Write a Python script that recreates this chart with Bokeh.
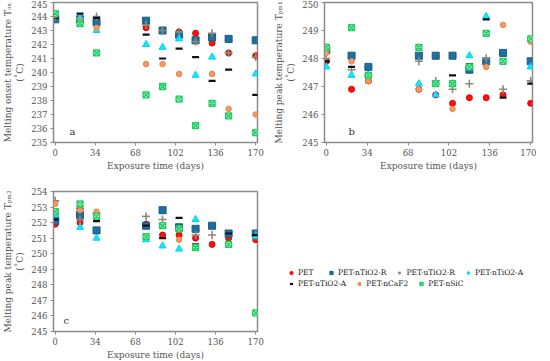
import numpy as np
from bokeh.plotting import figure
from bokeh.models import Label, Legend, LegendItem, FixedTicker, Range1d, ColumnDataSource
from bokeh.layouts import row, column
from bokeh.embed import file_html
from bokeh.resources import INLINE

nan = np.nan
days = [0, 21, 35, 77, 91, 105, 119, 133, 147, 170]
series_names = ["PET", "PET-nTiO2-R", "PET-uTiO2-R", "PET-nTiO2-A", "PET-uTiO2-A", "PET-nCaF2", "PET-nSiC"]

# Panel a: melting onset temperature
ton_PET     = [243.9, 243.7, 243.8, 243.2, 243.0, 242.9, 242.8, 242.1, 241.4, 241.2]
ton_nTiO2_R = [243.8, 243.8, 243.6, 243.7, 243.0, 242.7, 242.3, 242.5, 242.4, 242.3]
ton_uTiO2_R = [244.0, 243.9, 244.0, 243.4, 243.0, 242.9, 242.2, 242.8, 241.4, 241.1]
ton_nTiO2_A = [244.0, 243.9, 243.0, 242.0, 241.8, 242.4, 239.8, 241.1, nan, 239.9]
ton_uTiO2_A = [243.9, 244.2, 243.9, 242.7, 241.0, 241.7, 241.1, 239.4, 240.2, 238.4]
ton_nCaF2   = [244.1, 243.7, 243.2, 240.6, 240.6, 239.9, nan, 239.9, 237.4, 237.0]
ton_nSiC    = [244.2, 243.5, 241.4, 238.4, 239.0, 238.1, 236.2, 237.8, 236.9, 235.7]

# Panel b: melting peak temperature Tpm1
tp1_PET     = [247.9, 246.9, 247.2, 246.9, 246.7, 246.4, 246.6, 246.6, 246.7, 246.4]
tp1_nTiO2_R = [248.3, 248.1, 247.7, 248.1, 248.1, 248.1, 247.6, 247.9, 248.2, 247.9]
tp1_uTiO2_R = [248.0, 247.6, 247.4, 247.9, 247.2, 246.9, 247.1, 248.0, 246.9, 247.2]
tp1_nTiO2_A = [247.7, 247.4, 247.4, 247.1, 246.7, 247.1, 248.1, 249.5, nan, 247.7]
tp1_uTiO2_A = [247.9, 247.7, 247.4, nan, 247.1, 247.4, 247.8, 249.4, 246.6, 247.1]
tp1_nCaF2   = [248.2, 247.9, 247.2, 246.9, 247.1, 246.2, nan, 247.7, 249.2, 248.6]
tp1_nSiC    = [248.4, 249.1, 247.4, 248.4, 247.1, 247.1, 247.7, 248.9, 247.9, 248.7]

# Panel c: melting peak temperature Tpm2
tp2_PET     = [251.9, 252.0, nan, 251.9, 251.2, 251.2, 251.0, 250.6, 251.0, 250.9]
tp2_nTiO2_R = [252.1, 252.5, 251.5, 251.8, 252.8, 251.7, 251.6, 251.8, 251.3, 251.3]
tp2_uTiO2_R = [253.4, 252.2, 252.6, 252.4, 252.2, 251.6, 251.2, 251.2, nan, 251.2]
tp2_nTiO2_A = [252.5, 251.7, 251.0, 250.9, 250.5, 250.3, 252.2, nan, nan, 251.1]
tp2_uTiO2_A = [252.2, 252.9, 252.1, 251.8, 251.0, 252.3, 250.6, nan, 251.3, 251.2]
tp2_nCaF2   = [253.2, 252.8, 252.7, nan, nan, 250.9, nan, nan, nan, nan]
tp2_nSiC    = [252.7, 253.2, 252.4, 251.1, 251.8, 251.6, 250.4, nan, 250.6, 246.2]

x_ticks = [0, 34, 68, 102, 136, 170]

styles = [
    dict(marker="circle", size=6, fill_color="#ff1010", line_color="#e00000"),
    dict(marker="square", size=7, fill_color="#1f6f9f", line_color="#185a82"),
    dict(marker="cross", size=8, fill_color=None, line_color="#8a8a78", line_width=1.6),
    dict(marker="triangle", size=7, fill_color="#10e8ff", line_color="#00d0f0"),
    dict(marker="dash", size=7, fill_color=None, line_color="#111111", line_width=2.2),
    dict(marker="circle", size=5.5, fill_color="#f29a62", line_color="#e8844a"),
    dict(marker="square_x", size=6, fill_color="#a8f4bd", line_color="#22cc66", line_width=1.3),
]

FONT = "DejaVu Serif"

def make_panel(fw, fh, ylo, yhi, ylabel, letter, lx, ly, data, mb_left, mb_right, mb_top, mb_bottom):
    p = figure(frame_width=fw, frame_height=fh, output_backend="svg", toolbar_location=None,
               x_range=Range1d(-1.5, 171.5), y_range=Range1d(ylo, yhi),
               min_border_left=mb_left, min_border_right=mb_right, min_border_top=mb_top,
               min_border_bottom=mb_bottom)
    for vals, st in zip(data, styles):
        src = ColumnDataSource(dict(x=days, y=vals))
        p.scatter("x", "y", source=src, **st)
    p.xgrid.visible = False
    p.ygrid.visible = False
    p.xaxis.ticker = FixedTicker(ticks=x_ticks)
    p.yaxis.ticker = FixedTicker(ticks=list(range(int(ylo), int(yhi) + 1)))
    p.xaxis.axis_label = "Exposure time (days)"
    p.yaxis.axis_label = ylabel
    for ax in (p.xaxis[0], p.yaxis[0]):
        ax.axis_label_text_font = FONT
        ax.axis_label_text_font_style = "normal"
        ax.axis_label_text_font_size = "9px"
        ax.axis_label_text_color = "#555555"
        ax.major_label_text_font = FONT
        ax.major_label_text_font_size = "8.5px"
        ax.major_label_text_color = "#555555"
        ax.axis_line_color = "#8c8c8c"
        ax.major_tick_line_color = "#8c8c8c"
        ax.minor_tick_line_color = None
        ax.major_tick_out = 3
        ax.major_tick_in = 0
    p.xaxis.axis_label_standoff = 2
    p.yaxis.axis_label_standoff = 3
    p.xaxis.major_label_standoff = 3
    p.yaxis.major_label_standoff = 3
    p.outline_line_color = "#8c8c8c"
    p.outline_line_width = 1.5
    p.add_layout(Label(x=lx, y=ly, x_units="screen", y_units="screen", text=letter,
                       text_font=FONT, text_font_size="10px", text_color="#333333"))
    return p

pa = make_panel(204, 140, 235, 245, "Melting onset temperature T\u2092\u2099\n(\u02daC)", "a", 16, 6,
                [ton_PET, ton_nTiO2_R, ton_uTiO2_R, ton_nTiO2_A, ton_uTiO2_A, ton_nCaF2, ton_nSiC],
                38, 8, 2, 30)
pb = make_panel(208, 140, 245, 250, "Melting peak temperature T\u209a\u2098\u2081\n(\u02daC)", "b", 24, 6,
                [tp1_PET, tp1_nTiO2_R, tp1_uTiO2_R, tp1_nTiO2_A, tp1_uTiO2_A, tp1_nCaF2, tp1_nSiC],
                59, 4, 2, 30)
pc = make_panel(204, 140, 245, 254, "Melting peak temperature T\u209a\u2098\u2082\n(\u02daC)", "c", 10, 6,
                [tp2_PET, tp2_nTiO2_R, tp2_uTiO2_R, tp2_nTiO2_A, tp2_uTiO2_A, tp2_nCaF2, tp2_nSiC],
                38, 8, 18, 28)

# legend panel
pl = figure(frame_width=256, frame_height=140, output_backend="svg", toolbar_location=None,
            x_range=Range1d(0, 1), y_range=Range1d(0, 1),
            min_border_left=4, min_border_right=0, min_border_top=18, min_border_bottom=30)
pl.axis.visible = False
pl.xgrid.visible = False
pl.ygrid.visible = False
pl.outline_line_color = None
items = []
for name, st in zip(series_names, styles):
    r = pl.scatter(x=[nan], y=[nan], **st)
    items.append(LegendItem(label=name, renderers=[r]))

leg_kw = dict(orientation="horizontal", label_text_font=FONT, label_text_font_size="7.5px",
              label_text_color="#222222", glyph_width=8, glyph_height=9, label_standoff=3,
              spacing=9, border_line_color=None, background_fill_alpha=0, padding=1,
              margin=0, label_height=9)
leg1 = Legend(items=items[:4], location=(18, 54), **leg_kw)
leg2 = Legend(items=items[4:], location=(18, 43), **leg_kw)
pl.add_layout(leg1, "center")
pl.add_layout(leg2, "center")

layout = column(row(pa, pb), row(pc, pl))
open("out.html", "w").write(file_html(layout, INLINE))
